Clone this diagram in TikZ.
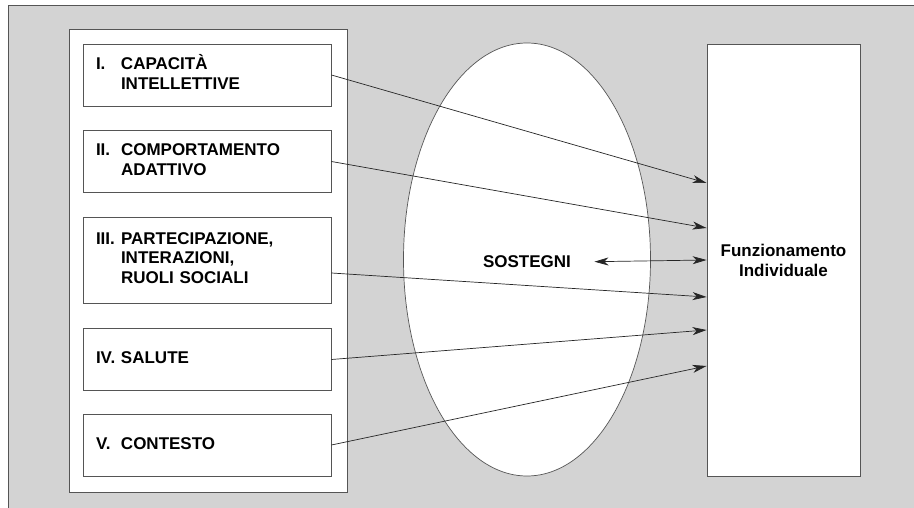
\documentclass[tikz,border=0pt]{standalone}
\usepackage{fontspec}
\setmainfont{Liberation Sans}
\usepackage{tikz}
\usetikzlibrary{arrows.meta,positioning,calc,shapes.geometric}

\definecolor{bggray}{RGB}{211,211,211}
\definecolor{edgegray}{RGB}{85,85,85}

\newcommand{\dimlbl}[1]{\begin{tabular}{@{}p{25pt}@{}l@{}}#1\end{tabular}}

\begin{document}
\begin{tikzpicture}[
      x=1pt, y=-1pt,
      font=\fontsize{17}{20}\selectfont\bfseries,
      dimbox/.style={rectangle, draw=edgegray, line width=0.9pt, fill=white,
                     align=left, inner xsep=13pt, inner ysep=0pt,
                     text width=222pt, minimum height=62pt},
      panel/.style={rectangle, draw=edgegray, line width=0.9pt, fill=white,
                    inner sep=0pt},
      arr/.style={-{Stealth[length=14pt, width=8pt, inset=4pt]}, line width=0.7pt,
                  draw=black!85},
      darr/.style={{Stealth[length=14pt, width=8pt, inset=4pt]}-{Stealth[length=14pt, width=8pt, inset=4pt]},
                   line width=0.7pt, draw=black!85}
    ]
    \useasboundingbox (0,0) rectangle (914,508);
    % background frame
    \fill[bggray] (8,6) rectangle (914,508);
    \draw[edgegray, line width=1pt] (8,508) -- (8,6) -- (914,6);

    % left panel with the five dimensions
    \node[panel, minimum width=278pt, minimum height=463pt] (dims) at (208,260.5) {};
    \node[dimbox] (d1) at (207,75) {\dimlbl{I. & CAPACITÀ\\ & INTELLETTIVE}};
    \node[dimbox] (d2) at (207,161.5) {\dimlbl{II. & COMPORTAMENTO\\ & ADATTIVO}};
    \node[dimbox, minimum height=86pt] (d3) at (207,260) {\dimlbl{III. & PARTECIPAZIONE,\\ & INTERAZIONI,\\ & RUOLI SOCIALI}};
    \node[dimbox] (d4) at (207,359.5) {\dimlbl{IV. & SALUTE}};
    \node[dimbox] (d5) at (207,445) {\dimlbl{V. & CONTESTO}};

    % supports
    \node[ellipse, draw=edgegray, line width=0.7pt, fill=white,
          minimum width=247pt, minimum height=433pt, inner sep=0pt] (supp) at (527,259.5) {};
    \node (sost) at (527,262) {SOSTEGNI};

    % outcome
    \node[panel, minimum width=153pt, minimum height=432pt, align=center] (fi) at (783.5,260)
      {Funzionamento\\Individuale};

    \draw[arr] (d1.east) -- ($(fi.west)+(0,-77)$);
    \draw[arr] (d2.east) -- ($(fi.west)+(0,-32)$);
    \draw[arr] ($(d3.east)+(0,13)$) -- ($(fi.west)+(0,37)$);
    \draw[arr] (d4.east) -- ($(fi.west)+(0,70)$);
    \draw[arr] (d5.east) -- ($(fi.west)+(0,106)$);
    \draw[darr, shorten <=20pt] (sost.east) -- (fi.west);
  \end{tikzpicture}
\end{document}
